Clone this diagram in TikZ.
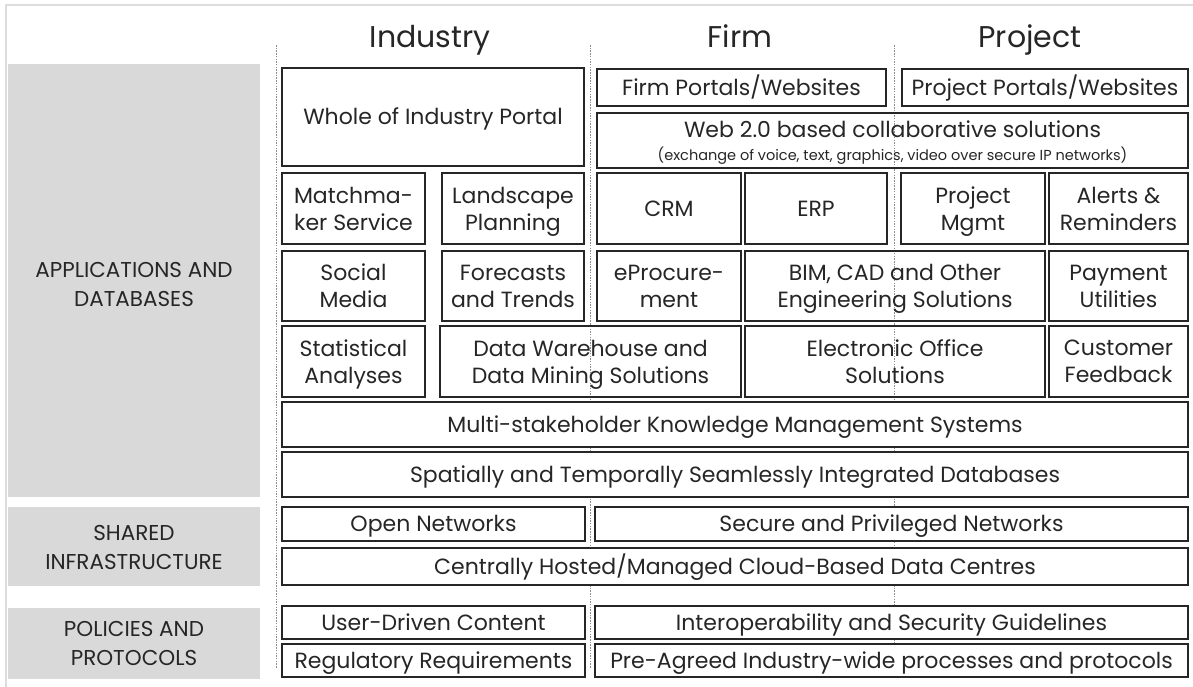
\documentclass[tikz,border=0pt]{standalone}
\usepackage{fontspec}
\setmainfont{Poppins}
\definecolor{band}{HTML}{D9D9D9}
\definecolor{frame}{HTML}{DDDDDD}
\definecolor{ink}{HTML}{262626}
\definecolor{dots}{HTML}{8C8C8C}
\tikzset{
  box/.style={draw=ink, line width=1.1pt, inner sep=0pt, align=center, text=ink,
    font=\fontsize{22}{27}\selectfont, text depth=0pt},
  one/.style={text height=15.4pt},
  wbox/.style={box, fill=white},
  bandlabel/.style={align=center, text=ink, font=\fontsize{21.5}{29}\selectfont, text depth=0pt},
  header/.style={text=ink, font=\fontsize{30}{34}\selectfont, anchor=base},
  colline/.style={draw=dots, line width=0.6pt, dash pattern=on 1.5pt off 1.2pt},
}
\newcommand\bx[6][box]{%
  \node[#1, minimum width={#4-#2}, minimum height={#5-#3}] (#6) at ({(#2+#4)/2},{(#3+#5)/2})}
\begin{document}
\begin{tikzpicture}[x=1pt,y=-1pt]
\useasboundingbox (0,0) rectangle (1193,686);
\fill[white] (0,0) rectangle (1193,686);
% outer frame
\draw[frame, line width=2pt] (6,690) -- (6,5) -- (1195,5);
% grey bands
\fill[band] (8,64) rectangle (260,497);
\fill[band] (8,507) rectangle (260,586);
\fill[band] (8,608) rectangle (260,679);
\node[bandlabel] (lab1) at (134,284) {APPLICATIONS AND\\DATABASES};
\node[bandlabel] (lab2) at (134,547) {SHARED\\INFRASTRUCTURE};
\node[bandlabel] (lab3) at (134,643) {POLICIES AND\\PROTOCOLS};
% headers
\node[header] (hind) at (430,47) {Industry};
\node[header] (hfirm) at (740,47) {Firm};
\node[header] (hproj) at (1030,47) {Project};
% column lines
\coordinate (c1t) at (276,45); \coordinate (c1b) at (276,668);
\coordinate (c2t) at (590,45); \coordinate (c2b) at (590,668);
\coordinate (c3t) at (894,45); \coordinate (c3b) at (894,668);
\draw[colline] (c1t) -- (c1b);
\draw[colline] (c2t) -- (c2b);
\draw[colline] (c3t) -- (c3b);
% boxes - applications
\bx[box,one]{282}{68}{584}{166}{whole} {Whole of Industry Portal};
\bx[box,one]{597}{69}{886}{106}{firmp} {Firm Portals/Websites};
\bx[box,one]{902}{69}{1188}{106}{projp} {Project Portals/Websites};
\bx{597}{113}{1188}{168}{web} {Web 2.0 based collaborative solutions\\[-4pt]{\fontsize{14.5}{16}\selectfont (exchange of voice, text, graphics, video over secure IP networks)}};
\bx{282}{173}{425}{244}{match} {Matchma-\\ker Service};
\bx{442}{173}{584}{244}{land} {Landscape\\Planning};
\bx[box,one]{597}{173}{741}{244}{crm} {CRM};
\bx[box,one]{745}{173}{887}{244}{erp} {ERP};
\bx{901}{173}{1045}{244}{pm} {Project\\Mgmt};
\bx{1049}{173}{1188}{244}{alert} {Alerts \&\\Reminders};
\bx{282}{251}{425}{321}{social} {Social\\Media};
\bx{442}{251}{584}{321}{fore} {Forecasts\\and Trends};
\bx{597}{251}{741}{321}{eproc} {eProcure-\\ment};
\bx{745}{251}{1045}{321}{bim} {BIM, CAD and Other\\Engineering Solutions};
\bx{1049}{251}{1188}{321}{pay} {Payment\\Utilities};
\bx{282}{326}{425}{397}{stat} {Statistical\\Analyses};
\bx{440}{326}{741}{397}{dw} {Data Warehouse and\\Data Mining Solutions};
\bx{745}{326}{1045}{397}{eoff} {Electronic Office\\Solutions};
\bx{1049}{326}{1188}{397}{cust} {Customer\\Feedback};
\bx[wbox,one]{282}{402}{1188}{447}{multi} {Multi-stakeholder Knowledge Management Systems};
\bx[wbox,one]{282}{452}{1188}{497}{spat} {Spatially and Temporally Seamlessly Integrated Databases};
% shared infrastructure
\bx[wbox,one]{282}{507}{585}{541}{open} {Open Networks};
\bx[wbox,one]{595}{507}{1188}{541}{secure} {Secure and Privileged Networks};
\bx[wbox,one]{282}{548}{1188}{585}{central} {Centrally Hosted/Managed Cloud-Based Data Centres};
% policies
\bx[wbox,one]{282}{606}{585}{639}{user} {User-Driven Content};
\bx[wbox,one]{595}{606}{1188}{639}{interop} {Interoperability and Security Guidelines};
\bx[wbox,one]{282}{644}{585}{677}{reg} {Regulatory Requirements};
\bx[wbox,one]{595}{644}{1188}{677}{pre} {Pre-Agreed Industry-wide processes and protocols};
\end{tikzpicture}
\end{document}
